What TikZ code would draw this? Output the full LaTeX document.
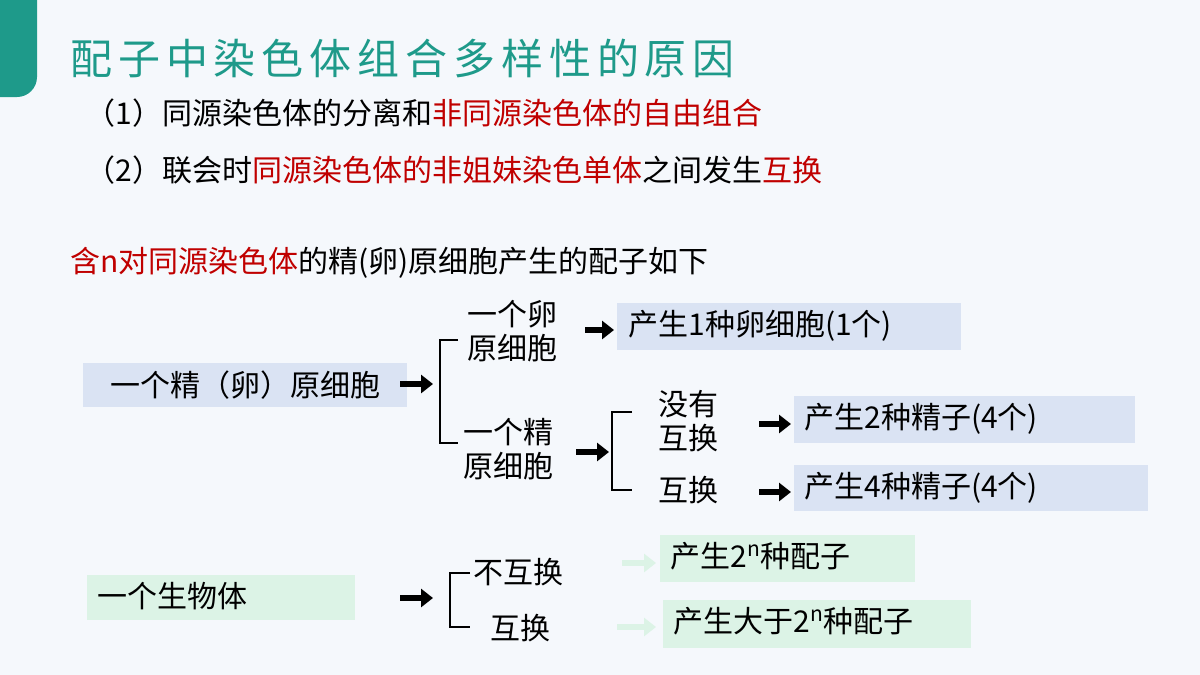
\documentclass[tikz,border=0pt]{standalone}
\usepackage{fontspec}
\setmainfont{Noto Sans CJK SC}
\usetikzlibrary{arrows.meta}
\definecolor{teal1}{HTML}{1E9A8A}
\definecolor{red1}{HTML}{C00000}
\definecolor{blue1}{HTML}{DAE3F3}
\definecolor{green1}{HTML}{DCF3E6}
\definecolor{bg}{HTML}{F5F8FC}
\tikzset{
  txt/.style={inner sep=0pt, font=\fontsize{15}{17}\selectfont},
  tbox/.style={txt, anchor=west, text height=10pt, text depth=2pt},
  go/.style={line width=3pt, -{Triangle[length=6pt,width=9pt]}},
  pale/.style={go, draw=green1},
  brace/.style={line width=0.6pt},
}
\begin{document}
\begin{tikzpicture}[x=0.5pt,y=-0.5pt]
\fill[bg] (0,0) rectangle (1200,675);
\useasboundingbox (0,0) rectangle (1200,675);
\fill[teal1, rounded corners=10pt] (-20,-20) rectangle (37,97);
\fill[teal1] (-20,-20) rectangle (37,40);
% title and text lines
\node[txt, anchor=west, teal1, font=\fontsize{21}{24}\addfontfeatures{LetterSpace=14}] (title) at (70,58) {配子中染色体组合多样性的原因};
\node[txt, anchor=west] (l1) at (85,113) {（1）同源染色体的分离和\textcolor{red1}{非同源染色体的自由组合}};
\node[txt, anchor=west] (l2) at (85,170) {（2）联会时\textcolor{red1}{同源染色体的非姐妹染色单体}之间发生\textcolor{red1}{互换}};
\node[txt, anchor=west] (l3) at (70,263) {\textcolor{red1}{含n对同源染色体}的精(卵)原细胞产生的配子如下};
% upper tree
\fill[blue1] (83,363) rectangle (407,407);
\node[txt] (cell) at (245,385) {一个精（卵）原细胞};
\coordinate (a1s) at (400,384); \coordinate (a1e) at (433,384);
\draw[go] (a1s) -- (a1e);
\draw[brace] (458,340) -- (440,340) -- (440,443) -- (458,443);
\node[txt, align=center] (egg) at (512,331) {一个卵\\原细胞};
\node[txt, align=center] (sperm) at (508,449) {一个精\\原细胞};
\coordinate (a2s) at (585,330); \coordinate (a2e) at (614,330);
\draw[go] (a2s) -- (a2e);
\fill[blue1] (617,303) rectangle (961,350);
\node[tbox] (r1) at (628,327) {产生1种卵细胞(1个)};
\coordinate (a3s) at (576,452); \coordinate (a3e) at (609,452);
\draw[go] (a3s) -- (a3e);
\draw[brace] (632,412) -- (612,412) -- (612,490) -- (632,490);
\node[txt, align=center] (nox) at (688,421) {没有\\互换};
\node[txt] (x) at (688,490) {互换};
\coordinate (a4s) at (759,424); \coordinate (a4e) at (791,424);
\coordinate (a5s) at (759,492); \coordinate (a5e) at (791,492);
\draw[go] (a4s) -- (a4e);
\draw[go] (a5s) -- (a5e);
\fill[blue1] (794,396) rectangle (1135,443);
\fill[blue1] (794,465) rectangle (1148,511);
\node[tbox] (r2) at (804,420) {产生2种精子(4个)};
\node[tbox] (r3) at (804,489) {产生4种精子(4个)};
% lower tree
\fill[green1] (87,575) rectangle (355,620);
\node[tbox] (org) at (97,599) {一个生物体};
\coordinate (b1s) at (400,598); \coordinate (b1e) at (433,598);
\draw[go] (b1s) -- (b1e);
\draw[brace] (470,573) -- (450,573) -- (450,627) -- (470,627);
\node[txt] (nocr) at (518,572) {不互换};
\node[txt] (cr) at (520,628) {互换};
\coordinate (b2s) at (622,563); \coordinate (b2e) at (656,563);
\coordinate (b3s) at (617,627); \coordinate (b3e) at (656,627);
\draw[pale] (b2s) -- (b2e);
\draw[pale] (b3s) -- (b3e);
\fill[green1] (660,535) rectangle (915,582);
\fill[green1] (663,600) rectangle (971,648);
\node[tbox] (g1) at (670,559) {产生2\textsuperscript{n}种配子};
\node[tbox] (g2) at (673,624) {产生大于2\textsuperscript{n}种配子};
\end{tikzpicture}
\end{document}
